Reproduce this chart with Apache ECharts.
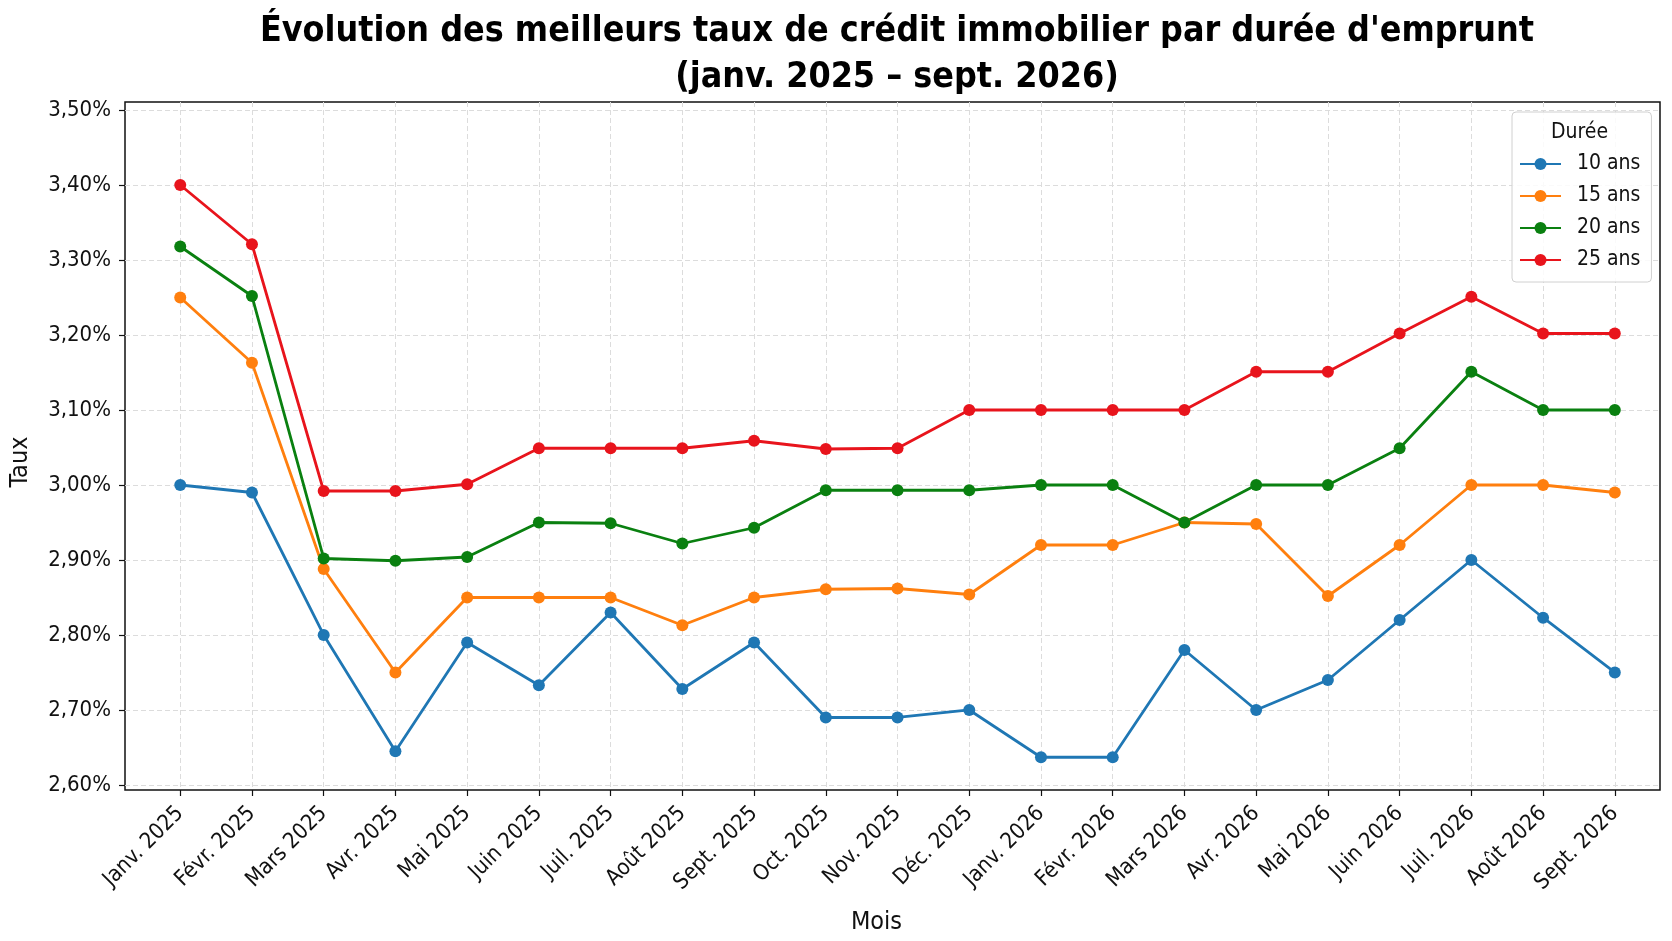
<!DOCTYPE html>
<html>
<head>
<meta charset="utf-8">
<title>Taux de crédit immobilier</title>
<script src="https://cdn.jsdelivr.net/npm/echarts@6/dist/echarts.min.js"></script>
<style>
  html, body { margin: 0; padding: 0; background: #fff; }
  #main { width: 1672px; height: 941px; }
</style>
</head>
<body>
<div id="main"></div>
<script type="text/javascript">
    // mois (axe des x)
    var mois = ['Janv. 2025', 'Févr. 2025', 'Mars 2025', 'Avr. 2025', 'Mai 2025', 'Juin 2025',
        'Juil. 2025', 'Août 2025', 'Sept. 2025', 'Oct. 2025', 'Nov. 2025', 'Déc. 2025',
        'Janv. 2026', 'Févr. 2026', 'Mars 2026', 'Avr. 2026', 'Mai 2026', 'Juin 2026',
        'Juil. 2026', 'Août 2026', 'Sept. 2026'];

    // taux en % par durée
    var taux10 = [3.00, 2.99, 2.80, 2.645, 2.79, 2.733, 2.83, 2.728, 2.79, 2.69, 2.69, 2.70,
        2.637, 2.637, 2.78, 2.70, 2.74, 2.82, 2.90, 2.823, 2.75];
    var taux15 = [3.25, 3.163, 2.888, 2.75, 2.85, 2.85, 2.85, 2.813, 2.85, 2.861, 2.862, 2.854,
        2.92, 2.92, 2.95, 2.948, 2.852, 2.92, 3.00, 3.00, 2.99];
    var taux20 = [3.318, 3.252, 2.902, 2.899, 2.904, 2.95, 2.949, 2.922, 2.943, 2.993, 2.993, 2.993,
        3.00, 3.00, 2.95, 3.00, 3.00, 3.049, 3.151, 3.10, 3.10];
    var taux25 = [3.40, 3.321, 2.992, 2.992, 3.001, 3.049, 3.049, 3.049, 3.059, 3.048, 3.049, 3.10,
        3.10, 3.10, 3.10, 3.151, 3.151, 3.202, 3.251, 3.202, 3.202];

    var durees = ['10 ans', '15 ans', '20 ans', '25 ans'];
    var couleurs = ['#1f77b4', '#ff7f0e', '#0a8010', '#e8141c'];

    // graduations de l'axe des y
    var yTicks = [2.6, 2.7, 2.8, 2.9, 3.0, 3.1, 3.2, 3.3, 3.4, 3.5];
    var xTicks = mois.map(function (m, i) { return i; });

    var police = "'DejaVu Sans Condensed', 'Liberation Sans Narrow', 'DejaVu Sans', sans-serif";

    function serie(nom, valeurs, couleur) {
        return {
            name: nom,
            type: 'line',
            data: valeurs.map(function (v, i) { return [i, v]; }),
            symbol: 'circle',
            symbolSize: 12,
            showAllSymbol: true,
            lineStyle: { width: 2.8, color: couleur },
            itemStyle: { color: couleur },
            emphasis: { disabled: true },
            z: 3
        };
    }

    var myChart = echarts.init(document.getElementById('main'));

    var option = {
        backgroundColor: '#fff',
        animation: false,
        textStyle: { fontFamily: police },
        title: {
            text: "Évolution des meilleurs taux de crédit immobilier par durée d'emprunt\n(janv. 2025 – sept. 2026)",
            left: 892,
            top: 4,
            textAlign: 'center',
            textStyle: {
                fontFamily: police,
                fontWeight: 'bold',
                fontSize: 35.5,
                lineHeight: 46,
                color: '#000'
            }
        },
        grid: {
            left: 125, right: 12, top: 102, bottom: 151,
            show: true,
            borderColor: '#111',
            borderWidth: 1.5,
            backgroundColor: '#fff'
        },
        legend: {
            data: durees,
            orient: 'vertical',
            left: 1512,
            top: 112,
            padding: [40, 11, 10, 7],
            itemWidth: 41,
            itemHeight: 15,
            itemGap: 8,
            backgroundColor: 'rgba(255,255,255,0.85)',
            borderColor: '#d0d0d0',
            borderWidth: 1,
            borderRadius: 4,
            textStyle: {
                fontFamily: police,
                fontSize: 21,
                lineHeight: 24,
                color: '#111',
                padding: [0, 0, 0, 11]
            }
        },
        graphic: [{
            type: 'text',
            left: 1581 - 30,
            top: 122,
            z: 100,
            style: {
                text: 'Durée',
                font: '21px ' + police,
                fill: '#111',
                width: 60,
                align: 'center'
            }
        }],
        xAxis: {
            type: 'value',
            min: -0.77,
            max: 20.63,
            name: 'Mois',
            nameLocation: 'middle',
            nameGap: 120,
            nameTextStyle: { fontFamily: police, fontSize: 25, color: '#111', padding: [0, 32, 0, 0] },
            axisLine: { show: false, onZero: false },
            axisTick: { show: true, length: 6, lineStyle: { color: '#111', width: 1.2 }, customValues: xTicks },
            axisLabel: {
                customValues: xTicks,
                rotate: 45,
                margin: 20,
                fontFamily: police,
                fontSize: 22,
                color: '#111',
                formatter: function (v) { return mois[Math.round(v)] || ''; }
            },
            splitLine: { show: true, lineStyle: { color: '#dcdcdc', type: [5, 3], width: 1 } }
        },
        yAxis: {
            type: 'value',
            min: 2.5933,
            max: 3.5107,
            name: 'Taux',
            nameLocation: 'middle',
            nameGap: 92,
            nameTextStyle: { fontFamily: police, fontSize: 25, color: '#111', padding: [0, 32, 0, 0] },
            axisLine: { show: false, onZero: false },
            axisTick: { show: true, length: 6, lineStyle: { color: '#111', width: 1.2 }, customValues: yTicks },
            axisLabel: {
                customValues: yTicks,
                margin: 14,
                fontFamily: police,
                fontSize: 22,
                color: '#111',
                formatter: function (v) { return v.toFixed(2).replace('.', ',') + '%'; }
            },
            splitLine: { show: true, lineStyle: { color: '#dcdcdc', type: [5, 3], width: 1 } }
        },
        series: [
            serie(durees[0], taux10, couleurs[0]),
            serie(durees[1], taux15, couleurs[1]),
            serie(durees[2], taux20, couleurs[2]),
            serie(durees[3], taux25, couleurs[3])
        ]
    };

    myChart.setOption(option);
</script>
</body>
</html>
